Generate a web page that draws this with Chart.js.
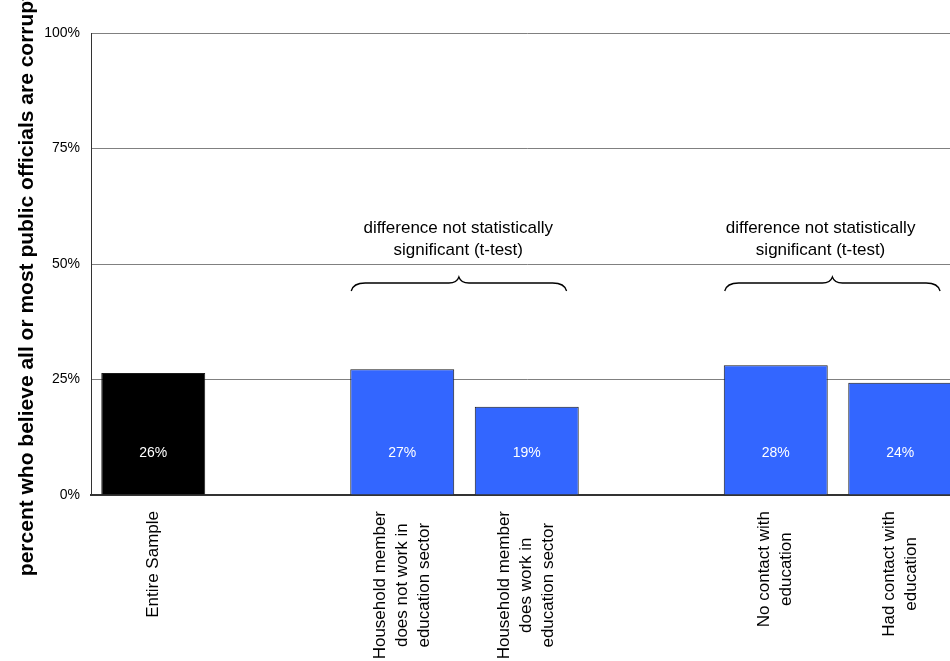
<!DOCTYPE html>
<html>
<head>
<meta charset="utf-8">
<script src="https://cdn.jsdelivr.net/npm/chart.js@4"></script>
<style>
  html, body { margin: 0; padding: 0; background: #fff; overflow: hidden; }
  #wrap { width: 980px; height: 661px; }
</style>
</head>
<body>
<div id="wrap"><canvas id="chart" width="980" height="661"></canvas></div>
<script>
/* ===============================
   DATA
================================ */
const categories = [
  ["Entire Sample"],
  [""],
  ["Household member", "does not work in", "education sector"],
  ["Household member", "does work in", "education sector"],
  [""],
  ["No contact with", "education"],
  ["Had contact with", "education"]
];
const values = [26.4, null, 27.2, 19.1, null, 28.1, 24.3];
const valueLabels = ["26%", "", "27%", "19%", "", "28%", "24%"];
const barColors = ["#000000", "#000000", "#3366FF", "#3366FF", "#3366FF", "#3366FF", "#3366FF"];
const yTicks = [0, 25, 50, 75, 100];
const yTitle = "percent who believe all or most public officials are corrupt";
const noteLines = ["difference not statistically", "significant (t-test)"];
const braceGroups = [[2, 3], [5, 6]];
const notePos = [2.45, 5.36];

const FONT = "'Liberation Sans', Arial, sans-serif";

/* ===============================
   PLUGINS
================================ */
const barText = {
  id: "barText",
  afterDatasetsDraw(chart) {
    const ctx = chart.ctx;
    const y0 = chart.scales.y.getPixelForValue(0);
    ctx.save();
    ctx.font = "14px " + FONT;
    ctx.fillStyle = "#ffffff";
    ctx.textAlign = "center";
    ctx.textBaseline = "middle";
    chart.getDatasetMeta(0).data.forEach((bar, i) => {
      if (values[i] == null) return;
      ctx.fillText(valueLabels[i], bar.x, y0 - 42);
    });
    ctx.restore();
  }
};

const xLabels = {
  id: "xLabels",
  afterDraw(chart) {
    const ctx = chart.ctx;
    const xs = chart.scales.x;
    const top = chart.chartArea.bottom + 16;
    ctx.save();
    ctx.font = "17px " + FONT;
    ctx.fillStyle = "#000";
    ctx.textAlign = "center";
    ctx.textBaseline = "middle";
    categories.forEach((lines, i) => {
      if (!lines[0]) return;
      const w = Math.max(...lines.map(l => ctx.measureText(l).width));
      const x = xs.getPixelForValue(i);
      ctx.save();
      ctx.translate(x, top);
      ctx.rotate(-Math.PI / 2);
      lines.forEach((l, k) => {
        ctx.fillText(l, -w / 2, (k - (lines.length - 1) / 2) * 22);
      });
      ctx.restore();
    });
    ctx.restore();
  }
};

const yTitleDraw = {
  id: "yTitleDraw",
  afterDraw(chart) {
    const ctx = chart.ctx;
    const ca = chart.chartArea;
    ctx.save();
    ctx.font = "bold 21px " + FONT;
    ctx.fillStyle = "#000";
    ctx.textAlign = "center";
    ctx.textBaseline = "alphabetic";
    ctx.translate(33, (ca.top + ca.bottom) / 2 + 21);
    ctx.rotate(-Math.PI / 2);
    ctx.fillText(yTitle, 0, 0);
    ctx.restore();
  }
};

const notes = {
  id: "notes",
  afterDraw(chart) {
    const ctx = chart.ctx;
    const xs = chart.scales.x;
    ctx.save();
    ctx.fillStyle = "#000";
    ctx.strokeStyle = "#000";
    ctx.lineWidth = 1.3;
    ctx.font = "17px " + FONT;
    ctx.textAlign = "center";
    ctx.textBaseline = "middle";
    braceGroups.forEach((g, n) => {
      const tx = xs.getPixelForValue(notePos[n]);
      ctx.fillText(noteLines[0], tx, 228);
      ctx.fillText(noteLines[1], tx, 250);

      const xl = xs.getPixelForValue(g[0] - 0.41);
      const xr = xs.getPixelForValue(g[1] + 0.32);
      const xc = (xl + xr) / 2;
      const yb = 291, ym = 283, yt = 277;
      ctx.beginPath();
      ctx.moveTo(xl, yb);
      ctx.quadraticCurveTo(xl + 2, ym, xl + 14, ym);
      ctx.lineTo(xc - 10, ym);
      ctx.quadraticCurveTo(xc - 2, ym, xc, yt);
      ctx.quadraticCurveTo(xc + 2, ym, xc + 10, ym);
      ctx.lineTo(xr - 14, ym);
      ctx.quadraticCurveTo(xr - 2, ym, xr, yb);
      ctx.stroke();
    });
    ctx.restore();
  }
};

/* ===============================
   CHART
================================ */
new Chart(document.getElementById("chart"), {
  type: "bar",
  data: {
    labels: categories.map(c => c.join(" ")),
    datasets: [{
      data: values,
      backgroundColor: barColors,
      borderColor: "#1a1a1a",
      borderWidth: 1,
      barPercentage: 0.835,
      categoryPercentage: 1
    }]
  },
  options: {
    responsive: false,
    animation: false,
    layout: { padding: { left: 0, top: 33, right: 17.5, bottom: 0 } },
    plugins: { legend: { display: false }, tooltip: { enabled: false } },
    scales: {
      x: {
        grid: { drawOnChartArea: false, drawTicks: false },
        border: { color: "#333", width: 2 },
        ticks: { display: false },
        afterFit(scale) { scale.height = 166; }
      },
      y: {
        min: 0,
        max: 100,
        afterBuildTicks(scale) { scale.ticks = yTicks.map(v => ({ value: v })); },
        grid: { color: "#808080", lineWidth: 1, drawTicks: false },
        border: { color: "#333", width: 1 },
        ticks: {
          padding: 11,
          color: "#000",
          font: { family: FONT, size: 14 },
          callback: v => v + "%"
        },
        afterFit(scale) { scale.width = 91; }
      }
    }
  },
  plugins: [barText, xLabels, yTitleDraw, notes]
});
</script>
</body>
</html>
